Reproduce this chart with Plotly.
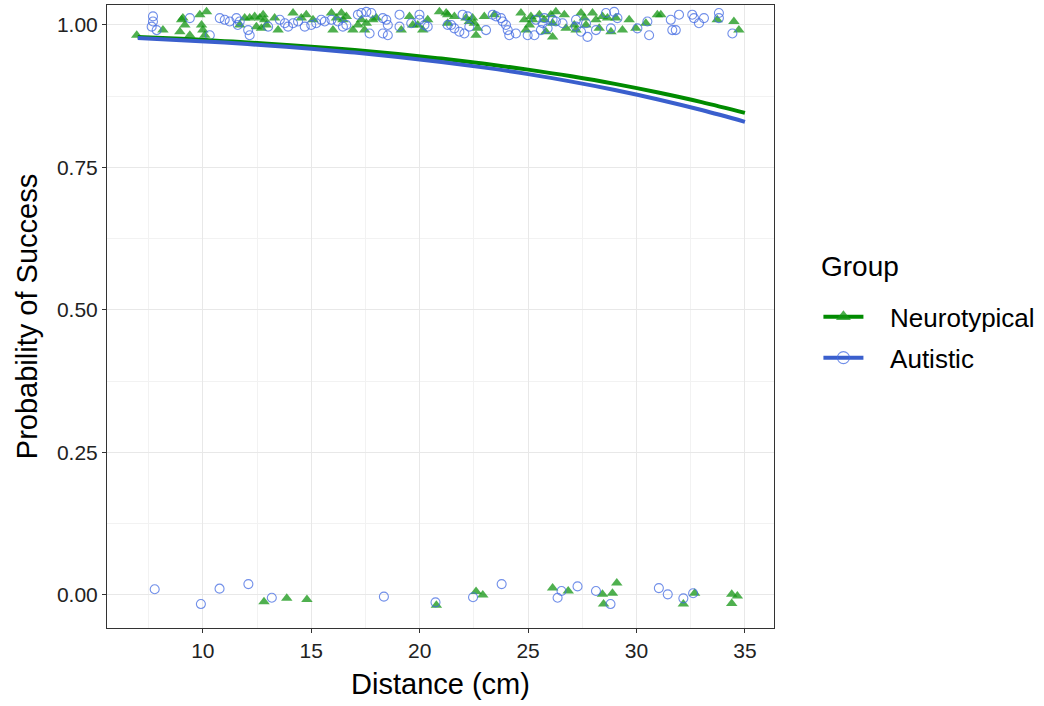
import plotly.graph_objects as go

# ---- Data: jittered observations (Distance in cm, outcome 0/1 with jitter) ----
nt_top_x = [6.95, 8.16, 9.02, 9.08, 8.94, 9.17, 9.86, 10.17, 9.94, 10.00, 10.09, 9.40,
            11.70, 11.93, 12.16, 12.39, 12.62, 12.78, 12.85, 12.93, 12.47, 12.70, 13.31, 13.47,
            14.16, 14.54, 14.77, 15.08, 15.93, 16.16, 16.00, 16.39, 16.46, 16.62, 16.92, 17.15,
            17.31, 17.46, 17.54, 17.84, 18.00, 19.15, 19.53, 19.68, 19.91, 20.14, 20.37, 20.91,
            21.22, 21.29, 21.29, 21.60, 22.14, 22.29, 22.44, 22.52, 22.67, 22.60, 22.98, 23.44,
            24.67, 24.83, 24.90, 25.06, 25.13, 25.21, 25.52, 25.75, 25.82, 26.13, 26.05, 26.28,
            26.67, 26.75, 27.13, 27.21, 27.44, 27.59, 27.67, 27.97, 28.13, 28.28, 28.43, 28.66,
            28.82, 29.05, 29.35, 29.66, 29.97, 30.43, 30.96, 26.13, 31.12, 33.72, 34.49, 34.72]
nt_top_y = [0.982, 0.991, 1.009, 1.012, 0.988, 1.000, 1.018, 1.023, 1.000, 0.991, 0.982, 0.982,
            1.000, 1.012, 1.012, 1.015, 1.012, 1.018, 1.009, 1.000, 0.997, 0.994, 1.012, 0.991,
            1.021, 1.012, 1.018, 1.009, 1.021, 1.012, 0.991, 1.021, 1.009, 1.015, 0.991, 1.000,
            1.009, 0.991, 1.003, 1.009, 1.012, 0.991, 1.015, 1.000, 1.000, 0.991, 1.009, 1.023,
            1.021, 1.003, 1.018, 1.015, 1.012, 1.006, 1.012, 1.003, 0.994, 0.982, 1.015, 1.018,
            1.021, 1.009, 0.991, 1.000, 1.015, 1.009, 1.018, 1.009, 0.988, 1.003, 1.018, 1.023,
            1.018, 0.994, 1.000, 0.991, 1.021, 1.012, 1.000, 1.021, 1.009, 0.994, 1.015, 1.012,
            0.988, 1.012, 0.991, 1.009, 0.994, 1.003, 1.018, 0.979, 1.018, 1.009, 1.006, 0.991]
nt_bot_x = [12.82, 13.87, 14.80, 20.77, 22.60, 22.91, 26.13, 26.85, 28.43, 28.89, 29.09,
            28.48, 32.16, 32.68, 34.39, 34.65, 34.39]
nt_bot_y = [-0.012, -0.006, -0.008, -0.018, 0.006, 0.000, 0.012, 0.007, 0.001, 0.003, 0.021,
            -0.016, -0.016, 0.003, 0.001, -0.002, -0.015]

au_top_x = [7.70, 7.70, 7.64, 7.87, 9.40, 10.32, 10.78, 11.01, 11.24, 11.55, 11.61, 11.70,
            12.09, 12.16, 13.01, 13.55, 13.78, 13.93, 14.16, 14.39, 14.70, 15.00, 15.23, 15.46,
            15.62, 15.93, 16.23, 16.46, 16.62, 17.15, 17.31, 17.54, 17.77, 17.69, 18.30, 18.46,
            18.53, 18.30, 18.53, 19.07, 19.07, 19.61, 19.99, 19.99, 20.22, 20.37, 21.29, 21.45,
            21.60, 21.83, 21.98, 22.21, 22.29, 22.06, 23.06, 23.37, 23.52, 23.75, 23.83, 23.98,
            24.06, 24.13, 24.44, 24.98, 25.29, 25.36, 25.59, 25.75, 25.90, 25.67, 26.13, 26.28,
            26.59, 27.21, 27.21, 27.44, 27.74, 27.67, 28.13, 28.59, 28.97, 29.12, 28.82, 30.04,
            30.50, 30.58, 31.58, 31.65, 31.81, 31.96, 32.57, 32.65, 32.88, 33.11, 33.80, 33.80,
            34.42]
au_top_y = [1.015, 1.006, 0.997, 0.991, 1.012, 0.982, 1.012, 1.009, 1.006, 1.012, 1.000, 1.006,
            0.991, 0.982, 0.997, 1.009, 1.003, 0.997, 1.003, 1.006, 0.997, 1.000, 1.003, 1.009,
            1.006, 1.009, 1.006, 0.997, 1.000, 1.018, 1.021, 1.023, 1.021, 0.985, 1.012, 1.009,
            1.000, 0.985, 0.982, 1.018, 0.997, 1.003, 1.018, 1.009, 1.000, 0.997, 1.000, 1.000,
            0.994, 0.988, 1.018, 1.015, 0.997, 0.985, 0.991, 1.018, 1.015, 1.012, 1.006, 1.000,
            0.991, 0.982, 0.985, 0.982, 0.982, 1.009, 0.991, 1.012, 0.994, 1.003, 1.009, 1.006,
            1.003, 1.009, 0.997, 0.988, 0.979, 1.003, 0.991, 1.021, 1.023, 1.012, 0.994, 0.994,
            1.006, 0.982, 1.009, 0.991, 0.991, 1.018, 1.018, 1.012, 1.003, 1.012, 1.021, 1.012,
            0.985]
au_bot_x = [7.78, 9.91, 10.77, 12.10, 13.18, 18.35, 20.73, 22.46, 23.78, 26.54, 26.36, 27.28,
            28.13, 28.80, 31.03, 31.44, 32.16, 32.61]
au_bot_y = [0.010, -0.016, 0.011, 0.019, -0.005, -0.003, -0.013, -0.004, 0.019, 0.007, -0.005,
            0.015, 0.007, -0.016, 0.012, 0.001, -0.006, 0.003]

# ---- Fitted probability curves ----
fit_x = [7, 9, 11, 13, 15, 17, 19, 21, 23, 25, 27, 29, 31, 33, 35]
fit_nt = [0.9790, 0.9756, 0.9716, 0.9671, 0.9619, 0.9559, 0.9490, 0.9410, 0.9320, 0.9216,
          0.9099, 0.8966, 0.8814, 0.8646, 0.8457]
fit_au = [0.9770, 0.9732, 0.9690, 0.9640, 0.9582, 0.9515, 0.9439, 0.9351, 0.9251, 0.9137,
          0.9006, 0.8859, 0.8693, 0.8507, 0.8300]

x_ticks = [10, 15, 20, 25, 30, 35]
y_ticks = [0, 0.25, 0.5, 0.75, 1.0]
y_tick_text = ["0.00", "0.25", "0.50", "0.75", "1.00"]
group_names = ["Neurotypical", "Autistic"]

FONT = "Liberation Sans, Arial, sans-serif"
GREEN_LINE = "#008B00"
GREEN_PT = "rgba(20,150,20,0.75)"
BLUE_LINE = "#3A5FCD"
BLUE_PT = "rgba(65,105,225,0.75)"
PAD = "\u00a0\u00a0\u00a0"

fig = go.Figure()

fig.add_trace(go.Scatter(x=nt_top_x + nt_bot_x, y=nt_top_y + nt_bot_y, mode="markers",
                         marker=dict(symbol="triangle-up", size=10, color=GREEN_PT, line=dict(width=0)),
                         showlegend=False, hoverinfo="skip"))
fig.add_trace(go.Scatter(x=au_top_x + au_bot_x, y=au_top_y + au_bot_y, mode="markers",
                         marker=dict(symbol="circle-open", size=9, color=BLUE_PT, line=dict(width=1.1)),
                         showlegend=False, hoverinfo="skip"))
fig.add_trace(go.Scatter(x=fit_x, y=fit_nt, mode="lines", line=dict(color=GREEN_LINE, width=4),
                         line_shape="spline", showlegend=False))
fig.add_trace(go.Scatter(x=fit_x, y=fit_au, mode="lines", line=dict(color=BLUE_LINE, width=4),
                         line_shape="spline", showlegend=False))

# legend entries
fig.add_trace(go.Scatter(x=[None], y=[None], mode="lines+markers", name=PAD + group_names[0],
                         legendgroup="nt",
                         line=dict(color=GREEN_LINE, width=4),
                         marker=dict(symbol="triangle-up", size=13, color=GREEN_PT)))
fig.add_trace(go.Scatter(x=[None], y=[None], mode="lines+markers", name=PAD + group_names[1],
                         legendgroup="au",
                         line=dict(color=BLUE_LINE, width=4),
                         marker=dict(symbol="circle-open", size=12, color=BLUE_PT, line=dict(width=1.1))))

axis_common = dict(
    showline=True, linecolor="#333333", linewidth=1, mirror=True,
    ticks="outside", ticklen=4, tickcolor="#333333", tickwidth=1,
    showgrid=True, gridcolor="#E8E8E8", gridwidth=1.1,
    zeroline=False,
    tickfont=dict(family=FONT, size=21, color="#222222"),
    title_font=dict(family=FONT, size=29, color="#000000"),
)

fig.update_xaxes(range=[5.58, 36.34], tickvals=x_ticks, title_text="Distance (cm)",
                 minor=dict(tickvals=[7.5, 12.5, 17.5, 22.5, 27.5, 32.5], showgrid=True,
                            gridcolor="#F2F2F2", gridwidth=0.6, ticks=""),
                 title_standoff=12, **axis_common)
fig.update_yaxes(range=[-0.058, 1.035], tickvals=y_ticks, ticktext=y_tick_text,
                 title_text="Probability of Success",
                 minor=dict(tickvals=[0.125, 0.375, 0.625, 0.875], showgrid=True,
                            gridcolor="#F2F2F2", gridwidth=0.6, ticks=""),
                 title_standoff=10, **axis_common)

fig.add_annotation(text="Group", xref="paper", yref="paper", x=1.067, y=0.5795,
                   xanchor="left", yanchor="middle", showarrow=False,
                   font=dict(family=FONT, size=28, color="#000000"))

fig.update_layout(
    width=1044, height=706,
    margin=dict(l=107, r=269, t=5, b=78),
    plot_bgcolor="white", paper_bgcolor="white",
    font=dict(family=FONT, color="#000000"),
    legend=dict(
        font=dict(size=26, color="#000000"),
        x=1.065, xanchor="left", y=0.537, yanchor="top",
        tracegroupgap=4, itemwidth=40,
        bgcolor="rgba(0,0,0,0)",
    ),
)

fig.write_html("out.html")
